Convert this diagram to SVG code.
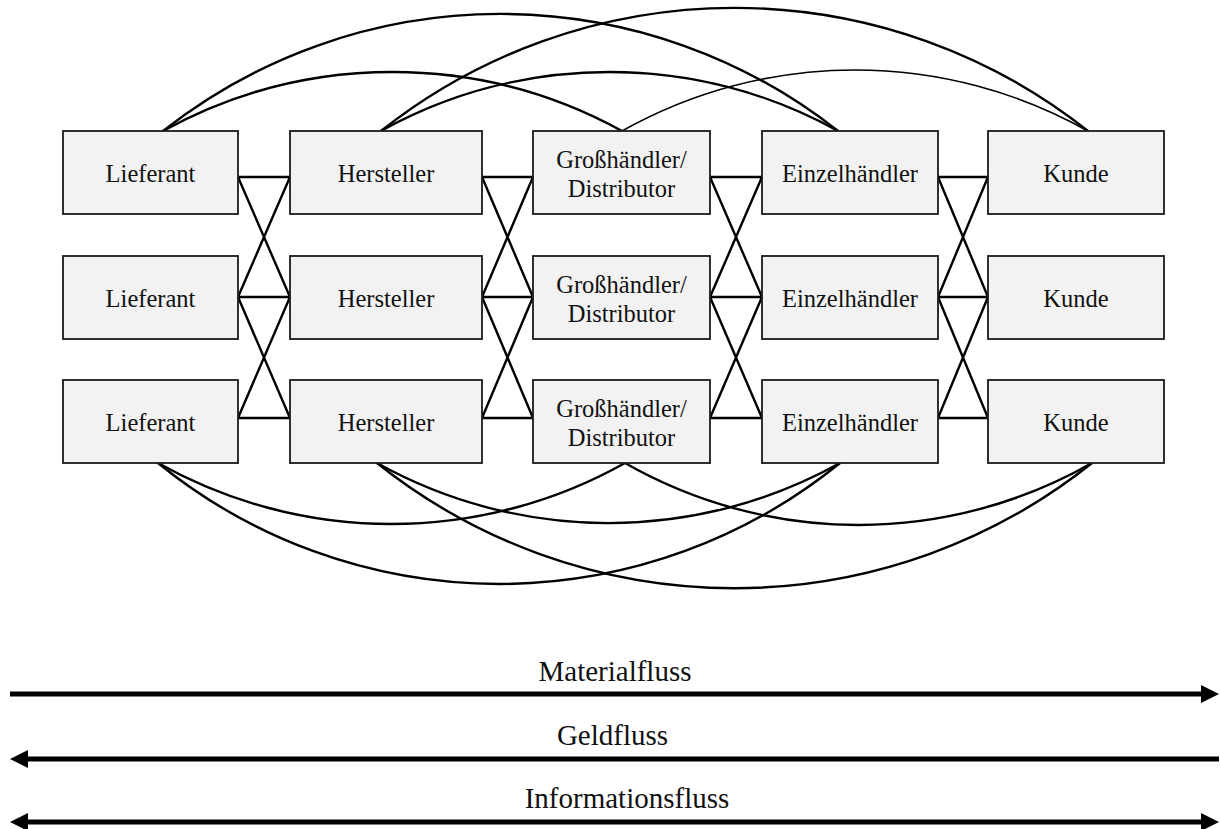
<svg xmlns="http://www.w3.org/2000/svg" width="1220" height="829" viewBox="0 0 1220 829">
<style>
.box{fill:#f2f2f2;stroke:#1a1a1a;stroke-width:1.8}
.lbl{font-size:24.5px;fill:#111;text-anchor:middle}
.flow{font-size:29px;fill:#111;text-anchor:middle}
.c{fill:none;stroke:#000;stroke-width:2.4}
.thin{stroke-width:1.6}
.big{fill:none;stroke:#000;stroke-width:5}
</style>
<defs>
<marker id="ah" markerUnits="userSpaceOnUse" markerWidth="18" markerHeight="18" refX="0" refY="9" orient="auto-start-reverse" overflow="visible">
<path d="M0,0 L18,9 L0,18 z" fill="#000"/>
</marker>
</defs>
<rect width="1220" height="829" fill="#fff"/>
<g id="connectors">
<path class="c" d="M238,177 H290 M238,297 H290 M238,418 H290 M238,177 L290,297 M238,297 L290,177 M238,297 L290,418 M238,418 L290,297"/>
<path class="c" d="M482,177 H533 M482,297 H533 M482,418 H533 M482,177 L533,297 M482,297 L533,177 M482,297 L533,418 M482,418 L533,297"/>
<path class="c" d="M710,177 H762 M710,297 H762 M710,418 H762 M710,177 L762,297 M710,297 L762,177 M710,297 L762,418 M710,418 L762,297"/>
<path class="c" d="M938,177 H988 M938,297 H988 M938,418 H988 M938,177 L988,297 M938,297 L988,177 M938,297 L988,418 M938,418 L988,297"/>
<path class="c" d="M163,131 A476,476 0 0 1 622,131"/>
<path class="c" d="M163,131 A545,545 0 0 1 838,131"/>
<path class="c" d="M381,131 A472,472 0 0 1 838,131"/>
<path class="c" d="M381,131 A569,569 0 0 1 1088,131"/>
<path class="c thin" d="M622,131 A475,475 0 0 1 1088,131"/>
<path class="c" d="M158,463 A477,477 0 0 0 625,463"/>
<path class="c" d="M158,463 A541,541 0 0 0 840,463"/>
<path class="c" d="M377,463 A476,476 0 0 0 840,463"/>
<path class="c" d="M377,463 A573,573 0 0 0 1092,463"/>
<path class="c" d="M625,463 A471,471 0 0 0 1092,463"/>
</g>
<g font-family="'Liberation Serif', 'Times New Roman', 'DejaVu Serif', serif">
<g id="n_l1"><rect class="box" x="63" y="131" width="175" height="83"/><text class="lbl" x="150.5" y="182">Lieferant</text></g>
<g id="n_l2"><rect class="box" x="63" y="256" width="175" height="83"/><text class="lbl" x="150.5" y="307">Lieferant</text></g>
<g id="n_l3"><rect class="box" x="63" y="380" width="175" height="83"/><text class="lbl" x="150.5" y="431">Lieferant</text></g>
<g id="n_h1"><rect class="box" x="290" y="131" width="192" height="83"/><text class="lbl" x="386" y="182">Hersteller</text></g>
<g id="n_h2"><rect class="box" x="290" y="256" width="192" height="83"/><text class="lbl" x="386" y="307">Hersteller</text></g>
<g id="n_h3"><rect class="box" x="290" y="380" width="192" height="83"/><text class="lbl" x="386" y="431">Hersteller</text></g>
<g id="n_g1"><rect class="box" x="533" y="131" width="177" height="83"/><text class="lbl" x="621.5" y="168">Großhändler/</text><text class="lbl" x="621.5" y="197">Distributor</text></g>
<g id="n_g2"><rect class="box" x="533" y="256" width="177" height="83"/><text class="lbl" x="621.5" y="293">Großhändler/</text><text class="lbl" x="621.5" y="322">Distributor</text></g>
<g id="n_g3"><rect class="box" x="533" y="380" width="177" height="83"/><text class="lbl" x="621.5" y="417">Großhändler/</text><text class="lbl" x="621.5" y="446">Distributor</text></g>
<g id="n_e1"><rect class="box" x="762" y="131" width="176" height="83"/><text class="lbl" x="850" y="182">Einzelhändler</text></g>
<g id="n_e2"><rect class="box" x="762" y="256" width="176" height="83"/><text class="lbl" x="850" y="307">Einzelhändler</text></g>
<g id="n_e3"><rect class="box" x="762" y="380" width="176" height="83"/><text class="lbl" x="850" y="431">Einzelhändler</text></g>
<g id="n_k1"><rect class="box" x="988" y="131" width="176" height="83"/><text class="lbl" x="1076" y="182">Kunde</text></g>
<g id="n_k2"><rect class="box" x="988" y="256" width="176" height="83"/><text class="lbl" x="1076" y="307">Kunde</text></g>
<g id="n_k3"><rect class="box" x="988" y="380" width="176" height="83"/><text class="lbl" x="1076" y="431">Kunde</text></g>
<g id="flows">
<text class="flow" x="615" y="681">Materialfluss</text>
<line class="big" x1="10" y1="694" x2="1201" y2="694" marker-end="url(#ah)"/>
<text class="flow" x="612.5" y="745">Geldfluss</text>
<line class="big" x1="28" y1="759" x2="1219" y2="759" marker-start="url(#ah)"/>
<text class="flow" x="627" y="808">Informationsfluss</text>
<line class="big" x1="28" y1="822" x2="1201" y2="822" marker-start="url(#ah)" marker-end="url(#ah)"/>
</g>
</g>
</svg>
